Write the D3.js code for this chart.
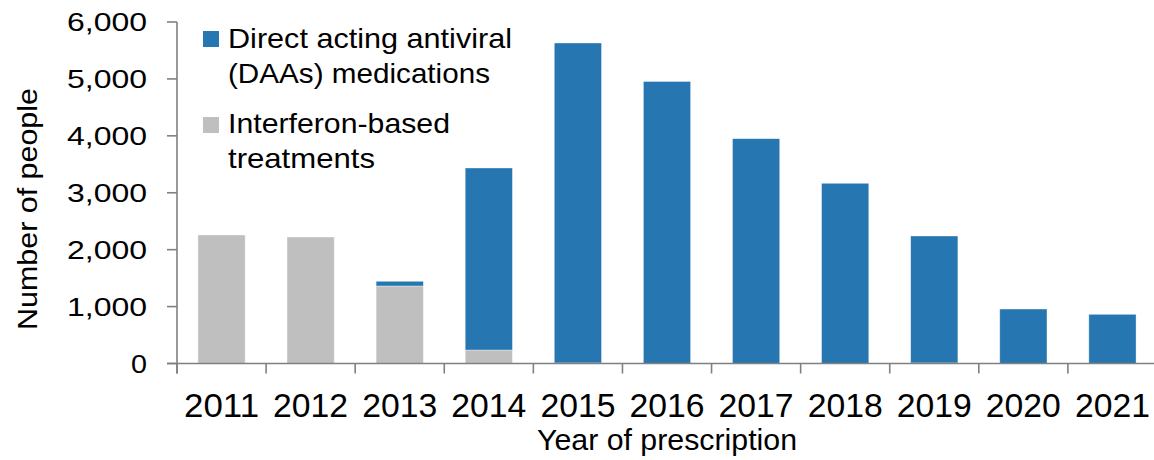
<!DOCTYPE html>
<html>
<head>
<meta charset="utf-8">
<script src="https://cdn.jsdelivr.net/npm/d3@7"></script>
<style>
  html, body { margin: 0; padding: 0; background: #fff; }
  svg { display: block; }
  text { font-family: "Liberation Sans", Arial, sans-serif; fill: #000; }
</style>
</head>
<body>
<svg id="chart" width="1154" height="460"></svg>
<script>
const years = ["2011","2012","2013","2014","2015","2016","2017","2018","2019","2020","2021"];
const interferon = [2258, 2222, 1362, 237, 10, 0, 0, 0, 10, 0, 0];
const daa = [0, 0, 82, 3198, 5621, 4955, 3950, 3166, 2230, 957, 864];
const yTicks = [0, 1000, 2000, 3000, 4000, 5000, 6000];
const seriesNames = ["Direct acting antiviral|(DAAs) medications", "Interferon-based|treatments"];
const colors = { daa: "#2676b1", interferon: "#bfbfbf" };

(function () {
const svg = d3.select("#chart");
const pLeft = 177, pRight = 1157, pTop = 22, pBottom = 363.5;

const x = d3.scaleBand().domain(years).range([pLeft, pRight]).paddingInner(0.47).paddingOuter(0.235);
const y = d3.scaleLinear().domain([0, 6000]).range([pBottom, pTop]);

const rows = years.map((yr, i) => ({ year: yr, interferon: interferon[i], daa: daa[i] }));
const stack = d3.stack().keys(["interferon", "daa"])(rows);

svg.append("g").selectAll("g").data(stack).join("g")
  .attr("fill", d => colors[d.key])
  .selectAll("rect").data(d => d).join("rect")
  .attr("x", d => x(d.data.year))
  .attr("width", x.bandwidth())
  .attr("y", d => y(d[1]))
  .attr("height", d => Math.max(0, y(d[0]) - y(d[1])))
  .attr("stroke", "#fff").attr("stroke-opacity", 0.45).attr("stroke-width", 0.8);

const axisColor = "#808080";
// Y axis
const yAxis = svg.append("g");
yAxis.append("line").attr("x1", pLeft).attr("x2", pLeft).attr("y1", pTop).attr("y2", pBottom + 10)
  .attr("stroke", axisColor).attr("stroke-width", 1.6);
yAxis.selectAll("line.t").data(yTicks).join("line").attr("class", "t")
  .attr("x1", pLeft - 10).attr("x2", pLeft).attr("y1", d => y(d)).attr("y2", d => y(d))
  .attr("stroke", axisColor).attr("stroke-width", 1.6);
const fmt = d3.format(",");
yAxis.selectAll("text").data(yTicks).join("text")
  .attr("x", 147).attr("y", d => y(d) + 9)
  .attr("text-anchor", "end")
  .attr("font-size", 26)
  .attr("textLength", d => fmt(d).length === 1 ? 16 : 80)
  .attr("lengthAdjust", "spacingAndGlyphs")
  .text(d => fmt(d));

// X axis
const xAxis = svg.append("g");
xAxis.append("line").attr("x1", pLeft - 10).attr("x2", 1154).attr("y1", pBottom).attr("y2", pBottom)
  .attr("stroke", axisColor).attr("stroke-width", 1.6);
const step = x.step();
xAxis.selectAll("line.t").data(d3.range(years.length + 1)).join("line").attr("class", "t")
  .attr("x1", i => pLeft + i * step).attr("x2", i => pLeft + i * step)
  .attr("y1", pBottom).attr("y2", pBottom + 10)
  .attr("stroke", axisColor).attr("stroke-width", 1.6);
xAxis.selectAll("text").data(years).join("text")
  .attr("x", d => x(d) + x.bandwidth() / 2).attr("y", 417)
  .attr("text-anchor", "middle")
  .attr("font-size", 33)
  .attr("textLength", 75).attr("lengthAdjust", "spacingAndGlyphs")
  .text(d => d);

svg.append("text").attr("x", 667).attr("y", 450).attr("text-anchor", "middle")
  .attr("font-size", 29).attr("textLength", 260).attr("lengthAdjust", "spacingAndGlyphs")
  .text("Year of prescription");

svg.append("text").attr("transform", "translate(37,209) rotate(-90)")
  .attr("text-anchor", "middle").attr("font-size", 27)
  .attr("textLength", 242).attr("lengthAdjust", "spacingAndGlyphs")
  .text("Number of people");

// Legend
const legend = svg.append("g");
const legendItems = [
  { key: "daa", sq: 31, lines: seriesNames[0].split("|"), base: 48, lens: [284, 262] },
  { key: "interferon", sq: 117, lines: seriesNames[1].split("|"), base: 133, lens: [222, 147] }
];
legendItems.forEach(it => {
  legend.append("rect").attr("x", 203).attr("y", it.sq).attr("width", 16).attr("height", 16)
    .attr("fill", colors[it.key]);
  it.lines.forEach((ln, j) => {
    legend.append("text").attr("x", 228).attr("y", it.base + j * 35)
      .attr("font-size", 28)
      .attr("textLength", it.lens[j]).attr("lengthAdjust", "spacingAndGlyphs")
      .text(ln);
  });
});
})();
</script>
</body>
</html>
